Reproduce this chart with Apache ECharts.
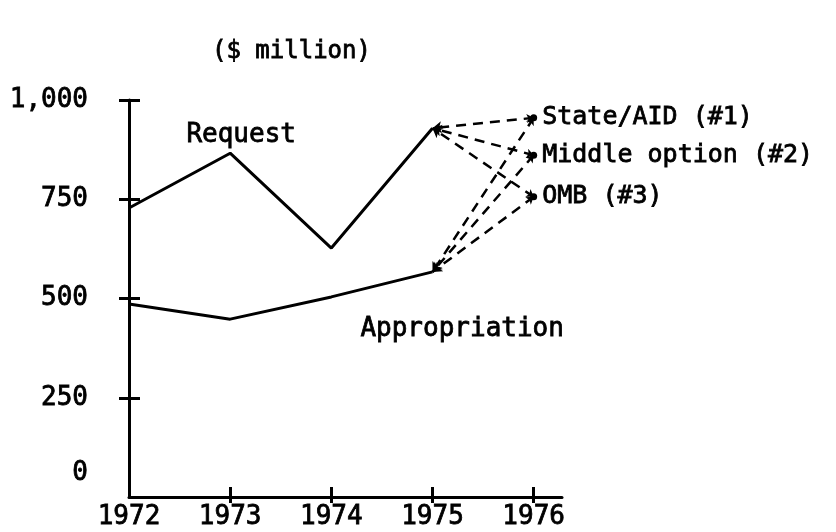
<!DOCTYPE html>
<html>
<head>
<meta charset="utf-8">
<script src="https://cdn.jsdelivr.net/npm/echarts@6/dist/echarts.min.js"></script>
<style>
  html, body { margin: 0; padding: 0; background: #fff; }
  #chart { width: 836px; height: 532px; }
</style>
</head>
<body>
<div id="chart"></div>
<script>
// ---- data ----
var years = [1972, 1973, 1974, 1975];
var request = [728, 866, 627, 929];
var appropriation = [486, 448, 504, 567];
var optionYear = 1976;
var optionNames = ['State/AID (#1)', 'Middle option (#2)', 'OMB (#3)'];
var optionValues = [955, 861, 756];
var xTickValues = [1972, 1973, 1974, 1975, 1976];
var yTickValues = [0, 250, 500, 750, 1000];
var yTickLabels = ['0', '250', '500', '750', '1,000'];

var FONT = 'DejaVu Sans Mono';
var chart = echarts.init(document.getElementById('chart'), null, { renderer: 'canvas' });

function pairs(xs, ys) { return xs.map(function (x, i) { return [x, ys[i]]; }); }

var dashedData = [];
optionValues.forEach(function (v) {
  dashedData.push({ coords: [[optionYear, v], [years[3], request[3]]] });
  dashedData.push({ coords: [[optionYear, v], [years[3], appropriation[3]]] });
});

var xBase = {
  type: 'value', min: 1972, max: 1976.28, position: 'bottom',
  splitLine: { show: false }
};
var yBase = {
  type: 'value', min: 0, max: 1000, position: 'left',
  splitLine: { show: false }
};
var txt = { fontFamily: FONT, fontWeight: 'normal', color: '#000', textBorderColor: '#000', textBorderWidth: 0.8 };

chart.setOption({
  animation: false,
  backgroundColor: '#ffffff',
  title: {
    text: '($ million)', left: 207, top: 35,
    textStyle: Object.assign({ fontSize: 24 }, txt)
  },
  grid: { left: 129, right: 274, top: 100, bottom: 35, containLabel: false },
  xAxis: [
    Object.assign({}, xBase, {
      axisLine: { onZero: false, lineStyle: { color: '#000', width: 3 } },
      axisTick: { show: true, inside: false, length: 6, customValues: xTickValues.slice(1), lineStyle: { color: '#000', width: 3 } },
      axisLabel: Object.assign({
        customValues: xTickValues, margin: 7, fontSize: 26,
        formatter: function (v) { return String(v); }
      }, txt)
    }),
    Object.assign({}, xBase, {
      axisLine: { show: false },
      axisTick: { show: true, inside: true, length: 10, customValues: xTickValues.slice(1), lineStyle: { color: '#000', width: 3 } },
      axisLabel: { show: false }
    })
  ],
  yAxis: [
    Object.assign({}, yBase, {
      axisLine: { show: true, onZero: false, lineStyle: { color: '#000', width: 3 } },
      axisTick: { show: true, inside: false, length: 10, customValues: yTickValues.slice(1), lineStyle: { color: '#000', width: 3 } },
      axisLabel: Object.assign({
        customValues: yTickValues, margin: 41, fontSize: 26,
        formatter: function (v) {
          var i = yTickValues.indexOf(v);
          var t = i >= 0 ? yTickLabels[i] : '';
          return v === 0 ? '{z|' + t + '}' : t;
        },
        rich: { z: Object.assign({ fontSize: 26, padding: [0, 0, 48, 0] }, txt) }
      }, txt)
    }),
    Object.assign({}, yBase, {
      axisLine: { show: false },
      axisTick: { show: true, inside: true, length: 11, customValues: yTickValues.slice(1), lineStyle: { color: '#000', width: 3 } },
      axisLabel: { show: false }
    })
  ],
  series: [
    {
      name: 'Request', type: 'line', data: pairs(years, request),
      showSymbol: false, lineStyle: { color: '#000', width: 3 }, z: 3
    },
    {
      name: 'Appropriation', type: 'line', data: pairs(years, appropriation),
      showSymbol: false, lineStyle: { color: '#000', width: 3 }, z: 3
    },
    {
      name: 'Options', type: 'lines', coordinateSystem: 'cartesian2d',
      data: dashedData,
      symbol: ['arrow', 'arrow'], symbolSize: [7, 9],
      lineStyle: { color: '#000', width: 2.5, type: [10, 7], opacity: 1 },
      z: 2
    },
    {
      name: '1976 options', type: 'scatter',
      data: optionValues.map(function (v, i) { return { value: [optionYear, v], name: optionNames[i] }; }),
      symbol: 'circle', symbolSize: 7,
      itemStyle: { color: '#000', opacity: 1 },
      label: Object.assign({
        show: true, position: 'right', distance: 5, fontSize: 25, opacity: 1,
        formatter: function (p) { return p.name; }
      }, txt),
      emphasis: { disabled: true },
      z: 4
    }
  ],
  graphic: [
    {
      type: 'text', left: 186, top: 122,
      style: { text: 'Request', font: '26px "' + FONT + '"', fill: '#000', stroke: '#000', lineWidth: 0.8 }
    },
    {
      type: 'text', left: 360, top: 316,
      style: { text: 'Appropriation', font: '26px "' + FONT + '"', fill: '#000', stroke: '#000', lineWidth: 0.8 }
    }
  ]
});
</script>
</body>
</html>
